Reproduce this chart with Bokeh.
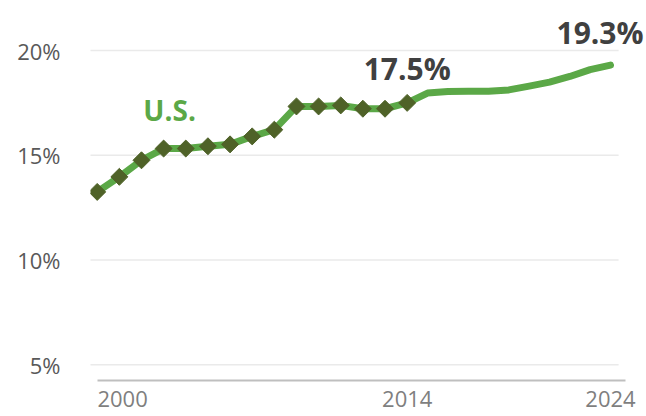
from bokeh.plotting import figure
from bokeh.models import Range1d, LinearAxis, FixedTicker, PrintfTickFormatter, Label
from bokeh.embed import file_html
from bokeh.resources import INLINE

# ---- data ----
hist_years = list(range(2000, 2015))
hist_share = [13.25, 13.97, 14.76, 15.32, 15.32, 15.43, 15.52, 15.9, 16.22,
              17.33, 17.33, 17.38, 17.22, 17.22, 17.5]
proj_years = list(range(2014, 2025))
proj_share = [17.5, 17.97, 18.04, 18.06, 18.06, 18.12, 18.3, 18.49, 18.76, 19.09, 19.3]
series_name = "U.S."
y_ticks = [5, 10, 15, 20]
x_ticks = [2000, 2014, 2024]

# ---- style ----
GREEN = "#5BA847"
OLIVE = "#4F6228"
DARK = "#404040"
FONT = "Open Sans"
GRID_SPAN = (1999.47, 2023.55)      # horizontal extent of the gridlines (main x range)
AXIS_SPAN = (1998.75, 2024.74)      # extent of the baseline (projection x range)

p = figure(width=646, height=416, output_backend="svg", toolbar_location=None,
           x_range=Range1d(1999.697, 2024.81), y_range=Range1d(4.248, 22.387),
           x_axis_location=None,
           min_border_left=90, min_border_right=0, min_border_top=0, min_border_bottom=36)
p.extra_x_ranges = {"proj": Range1d(1998.42, 2025.77)}
p.outline_line_color = None
p.background_fill_color = "white"
p.border_fill_color = "white"

ya = p.yaxis[0]
ya.ticker = FixedTicker(ticks=y_ticks)
ya.formatter = PrintfTickFormatter(format="%d%%")
ya.axis_line_color = None
ya.major_tick_line_color = None
ya.major_tick_out = 0
ya.major_tick_in = 0
ya.minor_tick_line_color = None
ya.major_label_text_font = FONT
ya.major_label_text_font_size = "22px"
ya.major_label_text_color = "#595959"
ya.major_label_standoff = 30

p.ygrid.visible = False
p.xgrid.visible = False
p.segment(x0=[GRID_SPAN[0]] * len(y_ticks), x1=[GRID_SPAN[1]] * len(y_ticks),
          y0=y_ticks, y1=y_ticks, line_color="#EAEAEA", line_width=1.5)

xa = LinearAxis(x_range_name="proj", ticker=FixedTicker(ticks=x_ticks),
                formatter=PrintfTickFormatter(format="%d"), bounds=AXIS_SPAN)
xa.axis_line_color = "#BFBFBF"
xa.axis_line_width = 2
xa.major_tick_line_color = None
xa.major_tick_out = 0
xa.major_tick_in = 0
xa.minor_tick_line_color = None
xa.major_label_text_font = FONT
xa.major_label_text_font_size = "22px"
xa.major_label_text_color = "#7F7F7F"
xa.major_label_standoff = 10
p.add_layout(xa, "below")

p.line(hist_years, hist_share, line_color=GREEN, line_width=7,
       line_join="round", line_cap="round")
p.line(proj_years, proj_share, line_color=GREEN, line_width=7,
       line_join="round", line_cap="round", x_range_name="proj")
p.scatter(hist_years, hist_share, marker="square", size=12, angle=0.785,
          fill_color=OLIVE, line_color=OLIVE)

p.add_layout(Label(x=hist_years[-1], y=hist_share[-1], text=f"{hist_share[-1]:.1f}%",
                   y_offset=34, text_align="center", text_baseline="alphabetic",
                   text_font=FONT, text_font_style="bold", text_font_size="30px",
                   text_color=DARK))
p.add_layout(Label(x=proj_years[-1], y=proj_share[-1], text=f"{proj_share[-1]:.1f}%",
                   x_range_name="proj", x_offset=-10.5, y_offset=33,
                   text_align="center", text_baseline="alphabetic",
                   text_font=FONT, text_font_style="bold", text_font_size="30px",
                   text_color=DARK))
p.add_layout(Label(x=2003.27, y=17.17, text=series_name,
                   text_align="center", text_baseline="alphabetic",
                   text_font=FONT, text_font_style="bold", text_font_size="28px",
                   text_color=GREEN))

open("out.html", "w").write(file_html(p, INLINE))
